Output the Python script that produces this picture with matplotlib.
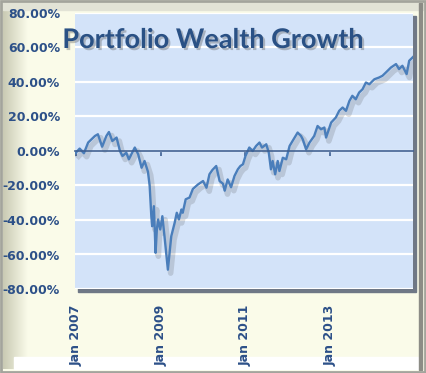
import matplotlib
matplotlib.use("Agg")
import matplotlib.pyplot as plt
import matplotlib.patheffects as pe
from matplotlib.patches import Rectangle
import numpy as np

# ---- data (decimal year, cumulative growth in %) ----
years = [2007.00, 2007.09, 2007.19, 2007.29, 2007.45, 2007.52, 2007.62, 2007.72, 2007.78, 2007.86,
         2007.96, 2008.04, 2008.10, 2008.19, 2008.25, 2008.39, 2008.47, 2008.55, 2008.62, 2008.70,
         2008.74, 2008.78, 2008.80, 2008.84, 2008.88, 2008.91, 2008.94, 2008.99, 2009.04, 2009.09,
         2009.17, 2009.25, 2009.33, 2009.38, 2009.43, 2009.49, 2009.52, 2009.59, 2009.68, 2009.76,
         2009.88, 2010.00, 2010.08, 2010.15, 2010.22, 2010.31, 2010.39, 2010.47, 2010.51, 2010.58,
         2010.66, 2010.74, 2010.82, 2010.88, 2010.94, 2011.00, 2011.09, 2011.17, 2011.25, 2011.33,
         2011.39, 2011.49, 2011.55, 2011.60, 2011.64, 2011.70, 2011.76, 2011.80, 2011.88, 2011.96,
         2012.04, 2012.11, 2012.23, 2012.31, 2012.35, 2012.43, 2012.51, 2012.62, 2012.70, 2012.78,
         2012.86, 2012.90, 2013.02, 2013.13, 2013.21, 2013.29, 2013.37, 2013.45, 2013.52, 2013.60,
         2013.68, 2013.76, 2013.84, 2013.92, 2014.04, 2014.15, 2014.23, 2014.31, 2014.43, 2014.55,
         2014.62, 2014.70, 2014.80, 2014.86, 2014.98]
growth = [-1.0, 1.4, -1.3, 4.9, 8.7, 9.7, 2.5, 8.7, 11.0, 5.8,
          7.8, 0.0, -2.9, -1.0, -4.8, 2.0, -1.9, -9.7, -5.8, -12.0,
          -20.0, -38.0, -43.6, -32.0, -59.0, -45.5, -39.7, -45.5, -37.8, -49.4,
          -68.8, -49.4, -41.6, -35.8, -39.7, -33.9, -35.8, -28.0, -27.0, -22.0,
          -19.4, -17.4, -21.3, -13.5, -11.0, -8.7, -17.4, -19.0, -23.0, -16.5,
          -21.0, -14.5, -10.6, -8.7, -7.7, -2.9, 2.0, 0.0, 2.9, 4.9,
          2.0, 3.9, -1.0, -10.6, -5.8, -13.5, -5.8, -11.6, -3.9, -4.8,
          2.9, 5.8, 10.7, 8.7, 6.8, 1.0, 4.9, 8.7, 14.5, 12.6,
          13.6, 7.8, 16.5, 19.4, 23.3, 25.2, 23.3, 29.0, 32.0, 30.0,
          33.9, 35.8, 39.7, 38.7, 41.6, 42.6, 43.6, 45.5, 48.4, 50.4,
          47.5, 49.4, 44.6, 52.3, 55.2]
tick_years = [2007, 2009, 2011, 2013]
tick_labels = ["Jan 2007", "Jan 2009", "Jan 2011", "Jan 2013"]
y_ticks = [-80, -60, -40, -20, 0, 20, 40, 60, 80]
title = "Portfolio Wealth Growth"

W, H = 426, 373
fig = plt.figure(figsize=(W / 100, H / 100), dpi=100)
fig.patch.set_facecolor("#FAFBE9")

# ---- decorative frame (pixel coordinates) ----
bg = fig.add_axes([0, 0, 1, 1], zorder=-10)
bg.set_xlim(0, W)
bg.set_ylim(H, 0)
bg.axis("off")
grad = np.linspace(0, 1, 40)[None, :]
bg.imshow(grad, extent=(3, 28, H - 4, 4), cmap=matplotlib.colors.LinearSegmentedColormap.from_list(
    "g", ["#C9CAB4", "#FAFBE9"]), aspect="auto", zorder=1)
bg.add_patch(Rectangle((3, 3), W - 6, 7, color="#E2E3D6", zorder=2))
bg.add_patch(Rectangle((14, H - 16), W - 22, 12, color="#FFFFFF", zorder=2))
bg.add_patch(Rectangle((W - 7, 3), 3, H - 6, color="#8C8C86", zorder=3))
bg.add_patch(Rectangle((1, 1), W - 2, H - 2, fill=False, edgecolor="#A3A49C", lw=2, zorder=4))

# ---- plot area ----
left, right, top, bottom = 75, 413, 13, 289
ax = fig.add_axes([left / W, 1 - bottom / H, (right - left) / W, (bottom - top) / H])
bg.add_patch(Rectangle((left + 3, top + 3), right - left, bottom - top, color="#6F7886", zorder=5))
ax.set_facecolor("#D3E3F9")
for s in ax.spines.values():
    s.set_visible(False)

ax.set_xlim(2006.98, 2014.95)
ax.set_ylim(-80, 80)
ax.set_yticks(y_ticks)
ax.set_yticklabels([f"{v:.2f}%" for v in y_ticks])
ax.grid(axis="y", color="white", lw=1.6)
ax.set_axisbelow(True)
ax.tick_params(axis="y", length=0, pad=10.8, labelsize=9, labelcolor="#2C5088")
for t in ax.get_yticklabels():
    t.set_fontweight("bold")

# zero line with ticks
ax.spines["bottom"].set_visible(True)
ax.spines["bottom"].set_position(("data", 0))
ax.spines["bottom"].set_color("#3D5F92")
ax.spines["bottom"].set_linewidth(1.2)
ax.set_xticks(tick_years)
ax.set_xticklabels([])
ax.tick_params(axis="x", length=3.5, width=1.2, color="#3D5F92", direction="out")

sec = ax.secondary_xaxis(0)
sec.set_xticks(tick_years)
sec.set_xticklabels(tick_labels, rotation=90, fontweight="bold", fontsize=9, color="#2C5088",
                    va="top", ha="center")
sec.tick_params(length=0, pad=11.5)
sec.spines["bottom"].set_visible(False)

ax.plot(years, growth, color="#4A7EBB", lw=1.7, solid_joinstyle="round",
        path_effects=[pe.SimpleLineShadow(offset=(2, -2.5), shadow_color="#444444", alpha=0.18, linewidth=4),
                      pe.Normal()])

fig.text(213 / W, 1 - 40 / H, title, fontsize=19.5, fontweight="bold", family="Lato", color="#2A5185",
         ha="center", va="center",
         path_effects=[pe.SimplePatchShadow(offset=(1.5, -1.5), shadow_rgbFace="#555555", alpha=0.35),
                       pe.Normal()])

fig.savefig("out.png", dpi=100, facecolor=fig.get_facecolor())
